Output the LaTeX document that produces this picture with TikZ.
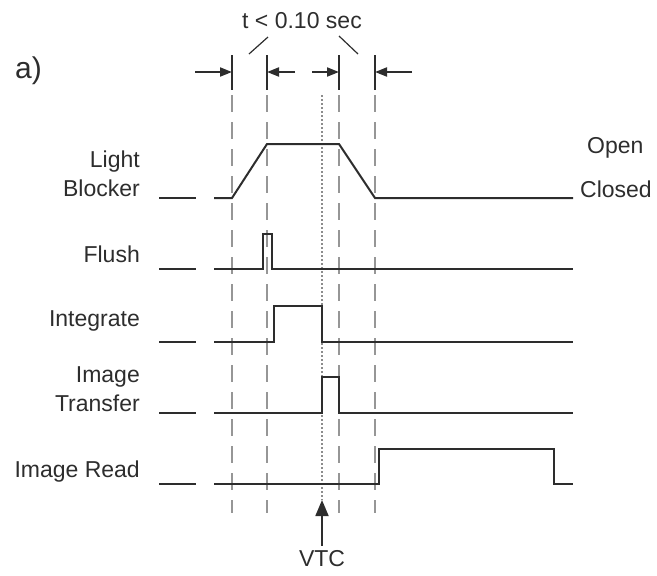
\documentclass[tikz,border=0pt]{standalone}
\usepackage{fontspec}
\setmainfont{Liberation Sans}
\usepackage{xcolor}
\usepackage{tikz}
\usetikzlibrary{arrows.meta, positioning, calc}
\definecolor{TDInk}{RGB}{45, 45, 45}
\definecolor{TDGrid}{RGB}{150, 150, 150}
\definecolor{TDDots}{RGB}{140, 140, 140}
\tikzset{
  sigline/.style={TDInk, line width=2pt},
  gridline/.style={TDGrid, line width=1.5pt, dash pattern=on 17pt off 10pt},
  vtcline/.style={TDDots, line width=1.2pt, dash pattern=on 2pt off 2pt},
  tickmark/.style={TDInk, line width=1.8pt},
  gaparrow/.style={TDInk, line width=1.8pt, -{Triangle[length=12pt,width=9pt]}},
  vtcarrow/.style={TDInk, line width=1.8pt, -{Triangle[length=16pt,width=13pt]}},
  siglabel/.style={anchor=base east, align=right, inner sep=0pt, text=TDInk,
    font=\fontsize{23}{29}\selectfont},
  sidelabel/.style={inner sep=0pt, text=TDInk, font=\fontsize{23}{28}\selectfont},
}

\begin{document}
\begin{tikzpicture}[x=1pt,y=-1pt]
  \path[use as bounding box] (0,0) rectangle (657,576);
  \node[sidelabel, anchor=base west, font=\fontsize{30}{36}\selectfont] (panel) at (15,78) {a)};

  % time marks and gridlines
  \foreach \n/\x in {a/232, b/267, c/339, d/375} {
    \coordinate (mid\n) at (\x,72);
    \draw[tickmark] (\x,55) -- (\x,90);
    \draw[gridline] (\x,95) -- (\x,513);
  }
  \coordinate (vtctop) at (322,95);
  \coordinate (vtcbot) at (322,500);
  \draw[vtcline] (vtctop) -- (vtcbot);

  % window arrows
  \coordinate (fromA) at (195,72);
  \coordinate (fromB) at (295,72);
  \coordinate (fromC) at (312,72);
  \coordinate (fromD) at (412,72);
  \draw[gaparrow] (fromA) -- (mida);
  \draw[gaparrow] (fromB) -- (midb);
  \draw[gaparrow] (fromC) -- (midc);
  \draw[gaparrow] (fromD) -- (midd);
  \node[sidelabel, anchor=base] (window) at (302,28) {t < 0.10 sec};
  \coordinate (slantL) at (268,37);
  \coordinate (slantR) at (339,36);
  \draw[TDInk, line width=1.2pt] (slantL) -- (249,54);
  \draw[TDInk, line width=1.2pt] (slantR) -- (358,54);

  % signal names
  \node[siglabel] (lblblock) at (140,196) {Light\\Blocker};
  \node[siglabel] (lblflush) at (140,262) {Flush};
  \node[siglabel] (lblinteg) at (140,326) {Integrate};
  \node[siglabel] (lbltrans) at (140,411) {Image\\Transfer};
  \node[siglabel] (lblread) at (140,477) {Image Read};

  % waveforms
  \foreach \y in {198, 269, 342, 413, 484}
    \draw[sigline] (159,\y) -- (196,\y);
  \draw[sigline] (214,198) -- (232,198) -- (267,144) -- (339,144) -- (375,198) -- (573,198) coordinate (lbend);
  \draw[sigline] (214,269) -- (263,269) -- (263,234) -- (272,234) -- (272,269) -- (573,269);
  \draw[sigline] (214,342) -- (274,342) -- (274,306) -- (322,306) -- (322,342) -- (573,342);
  \draw[sigline] (214,413) -- (322,413) -- (322,377) -- (339,377) -- (339,413) -- (573,413);
  \draw[sigline] (214,484) -- (379,484) -- (379,449) -- (554,449) -- (554,484) -- (573,484);

  \node[sidelabel, anchor=base west] (lblopen) at (587,153) {Open};
  \node[sidelabel, anchor=base west] (lblclosed) at (580,197) {Closed};

  \node[sidelabel, anchor=base] (vtc) at (322,566) {VTC};
  \draw[vtcarrow, shorten <=4pt] (vtc.north) -- (vtcbot);
\end{tikzpicture}
\end{document}
